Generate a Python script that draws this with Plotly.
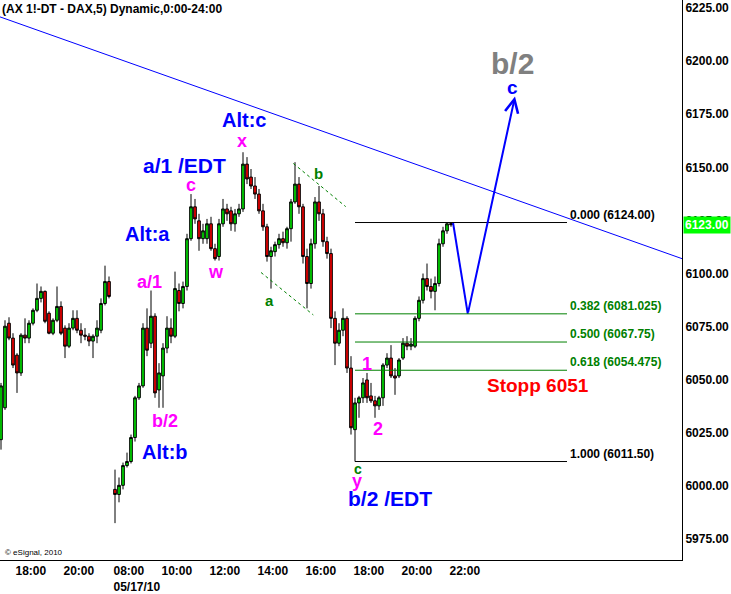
import plotly.graph_objects as go

# ---------------- data (10-minute aggregation of the DAX 5-min chart) ----------------
# session 1: 14 May 2010, 17:20 - 21:50 ; session 2: 17 May 2010, 08:00 - 21:50
s1_start = "17:20"
s1_open = [6021.8, 6036.8, 6076.6, 6069.6, 6061.6, 6053.2, 6071.0, 6069.6, 6076.6, 6082.7,
           6088.3, 6091.6, 6081.3, 6071.9, 6078.0, 6084.5, 6074.3, 6065.8, 6074.3, 6078.9,
           6073.3, 6071.0, 6070.5, 6068.2, 6070.5, 6073.3, 6085.9, 6096.2]
s1_high = [6048.5, 6078.0, 6079.4, 6071.9, 6062.5, 6071.9, 6078.9, 6078.0, 6083.6, 6095.3,
           6093.9, 6092.0, 6082.2, 6078.9, 6093.9, 6086.9, 6075.6, 6076.6, 6082.7, 6082.7,
           6076.6, 6074.3, 6071.9, 6071.4, 6078.0, 6088.3, 6103.7, 6098.6]
s1_low = [6017.1, 6035.8, 6068.6, 6055.5, 6043.8, 6051.8, 6067.2, 6067.2, 6075.6, 6081.8,
          6086.4, 6076.6, 6071.4, 6071.0, 6077.1, 6071.0, 6060.2, 6064.9, 6073.3, 6071.9,
          6067.2, 6068.6, 6065.8, 6060.2, 6067.2, 6071.9, 6085.0, 6088.3]
s1_close = [6047.1, 6075.2, 6069.6, 6056.9, 6053.2, 6071.0, 6069.6, 6076.6, 6082.7, 6088.3,
            6091.6, 6077.5, 6071.9, 6078.0, 6084.5, 6071.9, 6065.8, 6074.3, 6078.9, 6073.3,
            6071.0, 6070.5, 6068.2, 6070.5, 6074.3, 6085.9, 6096.2, 6089.2]

s2_start = "08:00"
s2_open = [5998.4, 5996.0, 6000.3, 6009.6, 6011.5, 6022.8, 6041.5, 6047.1, 6074.3, 6067.2,
           6079.9, 6045.2, 6051.8, 6064.9, 6074.3, 6070.5, 6092.0, 6085.9, 6093.9, 6116.4,
           6131.4, 6124.8, 6116.4, 6116.4, 6123.4, 6111.7, 6108.0, 6123.4, 6130.4, 6129.5,
           6123.4, 6128.1, 6130.4, 6151.5, 6145.4, 6141.2, 6137.4, 6129.5, 6122.0, 6108.0,
           6110.3, 6113.6, 6116.4, 6114.5, 6121.1, 6133.7, 6142.1, 6131.4, 6108.0, 6095.3,
           6114.0, 6133.7, 6128.1, 6115.0, 6109.4, 6078.9, 6067.2, 6073.3, 6078.9, 6055.5,
           6026.5, 6039.1, 6041.5, 6049.9, 6042.4, 6040.1, 6037.7, 6041.5, 6056.9, 6060.2,
           6051.8, 6051.8, 6060.2, 6067.2, 6065.8, 6065.8, 6078.9, 6087.4, 6097.6, 6093.9,
           6091.6, 6095.3, 6114.0, 6120.1, 6123.5]
s2_high = [6007.7, 6004.0, 6011.0, 6015.7, 6024.2, 6042.4, 6048.5, 6076.6, 6083.6, 6092.0,
           6081.3, 6057.8, 6067.2, 6079.9, 6078.9, 6100.9, 6095.3, 6096.2, 6118.7, 6137.4,
           6135.1, 6128.1, 6123.4, 6125.7, 6126.7, 6114.0, 6125.7, 6135.1, 6132.8, 6131.4,
           6130.4, 6132.8, 6157.1, 6154.8, 6149.2, 6145.4, 6139.8, 6132.8, 6123.4, 6112.6,
           6115.0, 6118.7, 6119.7, 6122.0, 6135.1, 6152.4, 6145.4, 6132.8, 6111.7, 6116.4,
           6136.0, 6141.2, 6130.4, 6117.3, 6111.7, 6082.2, 6076.6, 6083.6, 6079.9, 6061.1,
           6041.5, 6042.4, 6050.8, 6053.2, 6048.5, 6042.4, 6042.4, 6057.8, 6062.5, 6066.3,
           6055.5, 6060.2, 6069.6, 6070.5, 6069.6, 6079.9, 6089.2, 6100.0, 6104.7, 6097.6,
           6098.6, 6116.4, 6122.0, 6124.0, 6124.0]
s2_low = [5982.5, 5992.3, 5998.4, 6008.7, 6010.6, 6020.9, 6040.5, 6046.2, 6061.1, 6064.9,
          6041.5, 6036.8, 6036.8, 6062.5, 6067.2, 6069.6, 6082.2, 6083.6, 6092.0, 6115.4,
          6123.4, 6110.7, 6114.0, 6114.0, 6110.7, 6106.1, 6106.1, 6122.0, 6124.8, 6120.1,
          6119.7, 6126.7, 6129.0, 6142.1, 6139.8, 6135.1, 6128.1, 6120.1, 6105.6, 6092.9,
          6108.0, 6111.7, 6112.6, 6111.7, 6115.0, 6132.8, 6128.1, 6104.7, 6083.6, 6092.9,
          6111.7, 6124.8, 6112.6, 6107.0, 6074.3, 6056.9, 6065.8, 6070.5, 6053.2, 6024.2,
          6011.5, 6032.1, 6039.1, 6039.1, 6039.1, 6032.1, 6035.8, 6037.7, 6055.5, 6050.8,
          6042.9, 6050.8, 6059.3, 6063.9, 6063.9, 6064.9, 6077.5, 6085.9, 6092.0, 6088.3,
          6082.7, 6093.9, 6112.6, 6118.7, 6122.0]
s2_close = [5996.0, 6000.3, 6009.6, 6011.5, 6022.8, 6041.5, 6047.1, 6074.3, 6063.9, 6079.9,
            6043.8, 6053.2, 6064.9, 6074.3, 6070.5, 6092.9, 6085.9, 6093.9, 6116.4, 6131.4,
            6125.7, 6116.4, 6120.1, 6123.4, 6111.7, 6107.0, 6123.4, 6130.4, 6128.1, 6123.4,
            6128.1, 6130.4, 6151.5, 6144.5, 6141.2, 6137.4, 6129.5, 6122.0, 6108.0, 6110.7,
            6113.6, 6116.4, 6114.5, 6121.1, 6133.7, 6142.1, 6131.4, 6108.0, 6095.3, 6114.0,
            6133.7, 6128.1, 6115.0, 6109.4, 6078.9, 6067.2, 6073.3, 6078.9, 6055.5, 6027.4,
            6039.1, 6041.5, 6048.5, 6041.5, 6040.1, 6037.7, 6041.5, 6056.9, 6060.2, 6051.8,
            6050.8, 6059.3, 6067.2, 6065.8, 6066.8, 6078.9, 6087.4, 6097.6, 6093.9, 6091.6,
            6095.3, 6114.0, 6120.1, 6123.4, 6123.0]

bar_minutes = 10
last_price = 6123.00

fib_ratios = ["0.000", "0.382", "0.500", "0.618", "1.000"]
fib_prices = [6124.00, 6081.025, 6067.75, 6054.475, 6011.50]
fib_price_txt = ["6124.00", "6081.025", "6067.75", "6054.475", "6011.50"]
fib_colors = ["#000000", "#008000", "#008000", "#008000", "#000000"]

tick_days = [0, 0, 1, 1, 1, 1, 1, 1, 1, 1]
tick_times = ["18:00", "20:00", "08:00", "10:00", "12:00", "14:00", "16:00", "18:00", "20:00", "22:00"]
tick_text = ["18:00", "20:00", "08:00<br>05/17/10", "10:00", "12:00", "14:00", "16:00", "18:00", "20:00", "22:00"]
y_ticks = [5975, 6000, 6025, 6050, 6075, 6100, 6125, 6150, 6175, 6200, 6225]

# projection path (time, price)
proj_days = [1, 1, 1]
proj_times = ["22:10", "22:47", "24:45"]
proj_prices = [6124.0, 6081.0, 6183.3]


# ---------------- time -> continuous slot (5-min units, overnight gap removed) ----------------
def mins(t):
    h, m = t.split(":")
    return int(h) * 60 + int(m)


def slot(day, t):
    if day == 0:
        return (mins(t) - 18 * 60) / 5.0
    return 49 + (mins(t) - 8 * 60) / 5.0


def bar_x(day, start, n):
    s = slot(day, start)
    return [s + (bar_minutes / 5.0) * i + bar_minutes / 10.0 for i in range(n)]


x1 = bar_x(0, s1_start, len(s1_open))
x2 = bar_x(1, s2_start, len(s2_open))

FONT = "Liberation Sans, Arial, sans-serif"
BLUE = "#0000ff"
MAG = "#ff00ff"
GRN = "#008000"

fig = go.Figure()
fig.add_trace(go.Candlestick(
    x=x1 + x2,
    open=s1_open + s2_open, high=s1_high + s2_high,
    low=s1_low + s2_low, close=s1_close + s2_close,
    increasing=dict(line=dict(color="black", width=1), fillcolor="#00dd00"),
    decreasing=dict(line=dict(color="black", width=1), fillcolor="#ee0000"),
    whiskerwidth=0, showlegend=False, hoverinfo="skip"))

# projection path
px_ = [slot(d, t) for d, t in zip(proj_days, proj_times)]
fig.add_trace(go.Scatter(x=px_[:2], y=proj_prices[:2], mode="lines",
                         line=dict(color=BLUE, width=2), showlegend=False, hoverinfo="skip"))

x_left, x_right = -7.5, 333.5
shapes = []
# long blue trend line
shapes.append(dict(type="line", xref="x", yref="y", x0=x_left, y0=6220.8, x1=x_right, y1=6107.0,
                   line=dict(color=BLUE, width=1)))
# green channel lines
shapes.append(dict(type="line", xref="x", yref="y", x0=139.15, y0=6151.8, x1=165.35, y1=6131.5,
                   line=dict(color=GRN, width=1, dash="dot")))
shapes.append(dict(type="line", xref="x", yref="y", x0=123.0, y0=6100.5, x1=149.15, y1=6080.5,
                   line=dict(color=GRN, width=1, dash="dot")))
# fib lines
fib_x0 = x2[60]
fib_x1 = 276
for p, c in zip(fib_prices, fib_colors):
    shapes.append(dict(type="line", xref="x", yref="y", x0=fib_x0, x1=fib_x1, y0=p, y1=p,
                       line=dict(color=c, width=1)))

ann = []
for r, p, t, c in zip(fib_ratios, fib_prices, fib_price_txt, fib_colors):
    ann.append(dict(x=fib_x1 + 0.5, y=p, xref="x", yref="y", text=f"<b>{r} ({t})</b>", showarrow=False,
                    xanchor="left", yanchor="bottom", yshift=-1,
                    font=dict(family=FONT, size=12, color=c)))


def lab(x, y, text, color, size):
    ann.append(dict(x=x, y=y, xref="x", yref="y", text=f"<b>{text}</b>", showarrow=False,
                    xanchor="center", yanchor="middle", font=dict(family=FONT, size=size, color=color)))


lab(114.5, 6172.1, "Alt:c", BLUE, 20)
lab(113.5, 6162.3, "x", MAG, 18)
lab(84.75, 6151.0, "a/1 /EDT", BLUE, 21)
lab(87.75, 6141.9, "c", MAG, 18)
lab(66.25, 6118.7, "Alt:a", BLUE, 20)
lab(100.5, 6100.5, "w", MAG, 18)
lab(67.25, 6096.2, "a/1", MAG, 18)
lab(75.0, 6030.5, "b/2", MAG, 18)
lab(74.75, 6016.0, "Alt:b", BLUE, 20)
lab(151.5, 6147.3, "b", GRN, 15)
lab(127.0, 6087.4, "a", GRN, 15)
lab(175.75, 6057.2, "1", MAG, 18)
lab(181.5, 6026.7, "2", MAG, 18)
lab(171.25, 6008.2, "c", GRN, 14)
lab(171.0, 6002.3, "y", MAG, 18)
lab(187.5, 5994.0, "b/2 /EDT", BLUE, 21)
lab(261.25, 6047.3, "Stopp 6051", "#ff0000", 19)
lab(248.5, 6198.8, "b/2", "#808080", 30)
lab(248.5, 6187.5, "c", BLUE, 19)

# arrow on the last projection leg
ann.append(dict(x=px_[2], y=proj_prices[2], ax=px_[1], ay=proj_prices[1], xref="x", yref="y",
                axref="x", ayref="y", text="", showarrow=True, arrowhead=5, arrowsize=1.3,
                arrowwidth=2, arrowcolor=BLUE, standoff=0))

# title and copyright
ann.append(dict(x=0, y=1, xref="paper", yref="paper", xanchor="left", yanchor="top",
                text="<b>(AX 1!-DT - DAX,5) Dynamic,0:00-24:00</b>", showarrow=False,
                font=dict(family=FONT, size=12, color="black")))
ann.append(dict(x=0.004, y=5968.7, xref="paper", yref="y", xanchor="left", yanchor="middle",
                text="© eSignal, 2010", showarrow=False, font=dict(family=FONT, size=8, color="black")))
# last price tag
ann.append(dict(x=1, y=last_price, xref="paper", yref="y", xanchor="left", yanchor="middle",
                text=f"<b>{last_price:.2f}</b>", showarrow=False, bgcolor="#00ff00", borderpad=1,
                xshift=1, font=dict(family=FONT, size=12, color="white")))

fig.update_layout(
    width=731, height=594, margin=dict(l=0, r=49, t=0, b=31),
    paper_bgcolor="white", plot_bgcolor="white", boxgap=0.05,
    shapes=shapes, annotations=ann, showlegend=False,
    xaxis=dict(range=[x_left, x_right], rangeslider=dict(visible=False), showgrid=False,
               zeroline=False, showline=True, linecolor="black", linewidth=1, ticks="",
               tickvals=[slot(d, t) for d, t in zip(tick_days, tick_times)], ticktext=tick_text,
               ticklabelposition="outside right",
               tickfont=dict(family=FONT, size=12, color="black", weight="bold")),
    yaxis=dict(side="right", range=[5965.15, 6228.75], showgrid=False, zeroline=False,
               showline=True, linecolor="black", linewidth=1, ticks="",
               tickvals=y_ticks, ticktext=[f"{v:.2f}" for v in y_ticks],
               tickfont=dict(family=FONT, size=12, color="black", weight="bold")),
)

fig.write_html("out.html", config={"displayModeBar": False},
               post_script="document.body.style.margin='0px';document.body.style.overflow='hidden';")
